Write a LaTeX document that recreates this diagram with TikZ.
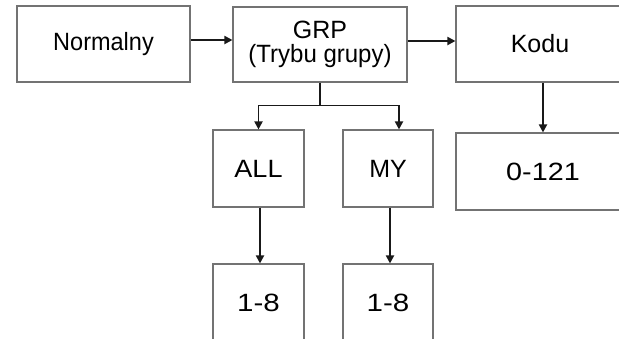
\documentclass[tikz,border=0pt]{standalone}
\usepackage{fontspec}
\setmainfont{Liberation Sans}
\usetikzlibrary{arrows.meta}
\newcommand{\hs}[2]{\scalebox{#1}[1]{#2}}
\begin{document}
\begin{tikzpicture}[x=1pt,y=-1pt,
  box/.style={draw=black!55,line width=1.1pt,rectangle,inner sep=0pt,align=center,font=\fontsize{25}{24}\selectfont},
  arr/.style={draw=black!90,line width=1.8pt,-{Triangle[length=8pt,width=8pt]}},
  ln/.style={draw=black!90,line width=1.8pt}]
\useasboundingbox (0,0) rectangle (619,338);
\clip (0,0) rectangle (619,338);
\node[box,minimum width=173pt,minimum height=76pt] (norm) at (103.5,44) {\hs{0.94}{Normalny}};
\node[box,minimum width=174pt,minimum height=75pt] (grp) at (320,44.5) {GRP\\\hs{0.96}{(Trybu grupy)}};
\node[box,minimum width=168pt,minimum height=76pt] (kodu) at (540,44) {Kodu};
\node[box,minimum width=91pt,minimum height=77pt] (all) at (258.5,168.5) {\hs{1.08}{ALL}};
\node[box,minimum width=90pt,minimum height=77pt] (my) at (388,168.5) {MY};
\node[box,minimum width=174pt,minimum height=77pt] (num) at (543,171.5) {\hs{1.15}{0-121}};
\node[box,minimum width=91pt,minimum height=78pt] (a18) at (258.5,303) {\hs{1.18}{1-8}};
\node[box,minimum width=90pt,minimum height=78pt] (m18) at (388,303) {\hs{1.18}{1-8}};
\draw[arr] ([yshift=4pt]norm.east) -- ([yshift=4pt]norm.east -| grp.west);
\draw[arr] ([yshift=3.5pt]grp.east) -- ([yshift=3.5pt]grp.east -| kodu.west);
\draw[ln] (grp.south) -- ++(0,23) coordinate (split);
\draw[arr] (split) -| (all.north);
\draw[arr] (split) -| ([xshift=11pt]my.north);
\draw[arr] (kodu.south -| num.north) -- (num.north);
\draw[arr] ([xshift=1.5pt]all.south) -- ([xshift=1.5pt]a18.north);
\draw[arr] ([xshift=2pt]my.south) -- ([xshift=2pt]m18.north);
\end{tikzpicture}
\end{document}
